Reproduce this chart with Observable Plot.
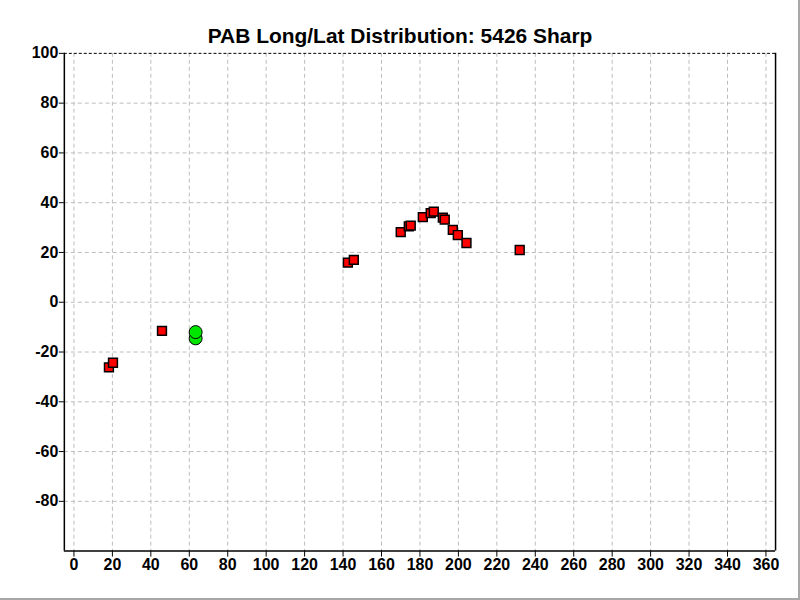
<!DOCTYPE html>
<html>
<head>
<meta charset="utf-8">
<script src="https://cdn.jsdelivr.net/npm/d3@7"></script>
<script src="https://cdn.jsdelivr.net/npm/@observablehq/plot@0.6"></script>
<style>
  html, body { margin: 0; padding: 0; background: #fff; }
  #wrap { position: relative; width: 800px; height: 600px; box-sizing: border-box;
          border-right: 2px solid #a8a8a8; border-bottom: 2px solid #a8a8a8; overflow: hidden; }
  #wrap svg { position: absolute; left: 0; top: 0; }
</style>
</head>
<body>
<div id="wrap"></div>
<script>
const titleText = "PAB Long/Lat Distribution: 5426 Sharp";

// Sharp events (red squares)
const sharpLong = [18.2, 20.3, 45.8, 142.5, 145.6, 170.0, 174.2, 175.2, 181.5, 185.6, 187.2, 191.9, 192.9, 197.1, 199.7, 204.2, 231.9];
const sharpLat  = [-26.2, -24.3, -11.5, 15.9, 17.0, 28.2, 30.5, 30.8, 34.2, 35.8, 36.4, 34.0, 33.2, 29.1, 27.0, 23.8, 21.0];

// Green circles
const greenLong = [63.3, 63.3];
const greenLat  = [-14.5, -12.0];

const xTicks = [0, 20, 40, 60, 80, 100, 120, 140, 160, 180, 200, 220, 240, 260, 280, 300, 320, 340, 360];
const yTicks = [-80, -60, -40, -20, 0, 20, 40, 60, 80, 100];
const yGrid  = [-80, -60, -40, -20, 0, 20, 40, 60, 80];

const xDomain = [-5, 365];
const yDomain = [-100, 100];

const sharp = sharpLong.map((x, i) => ({x, y: sharpLat[i]}));
const green = greenLong.map((x, i) => ({x, y: greenLat[i]}));

const chart = Plot.plot({
  width: 800,
  height: 600,
  marginTop: 53,
  marginLeft: 64,
  marginRight: 23,
  marginBottom: 48,
  style: {fontFamily: "'Liberation Sans', Arial, sans-serif", fontSize: "16px", fontWeight: "bold", color: "black", background: "white"},
  x: {domain: xDomain, label: null},
  y: {domain: yDomain, label: null},
  marks: [
    Plot.gridX(xTicks, {stroke: "#bdbdbd", strokeOpacity: 1, strokeDasharray: "4,3"}),
    Plot.gridY(yGrid, {stroke: "#bdbdbd", strokeOpacity: 1, strokeDasharray: "4,3"}),
    Plot.ruleY([yDomain[1]], {stroke: "black", strokeDasharray: "3,2"}),
    Plot.ruleY([yDomain[0]], {stroke: "black", strokeWidth: 1.5}),
    Plot.ruleX([xDomain[0]], {stroke: "black", strokeWidth: 1.5}),
    Plot.ruleX([xDomain[1]], {stroke: "black", strokeWidth: 1.5}),
    Plot.axisX(xTicks, {tickSize: 6, tickPadding: 2, stroke: "black", fill: "black", fontSize: 16, fontWeight: "bold", tickFormat: d => String(d)}),
    Plot.axisY(yTicks, {tickSize: 5, tickPadding: 1, stroke: "black", fill: "black", fontSize: 16, fontWeight: "bold", tickFormat: d => String(d)}),
    Plot.dot(green, {x: "x", y: "y", r: 6.5, fill: "#00e600", stroke: "black", strokeWidth: 1}),
    Plot.dot(sharp, {x: "x", y: "y", symbol: "square", r: 5, fill: "#ff0000", stroke: "black", strokeWidth: 1.5}),
    Plot.text([titleText], {frameAnchor: "top", lineAnchor: "top", dx: -20, dy: -25, fontSize: 21, fontWeight: "bold", fill: "black"})
  ]
});

document.getElementById("wrap").appendChild(chart);
</script>
</body>
</html>
